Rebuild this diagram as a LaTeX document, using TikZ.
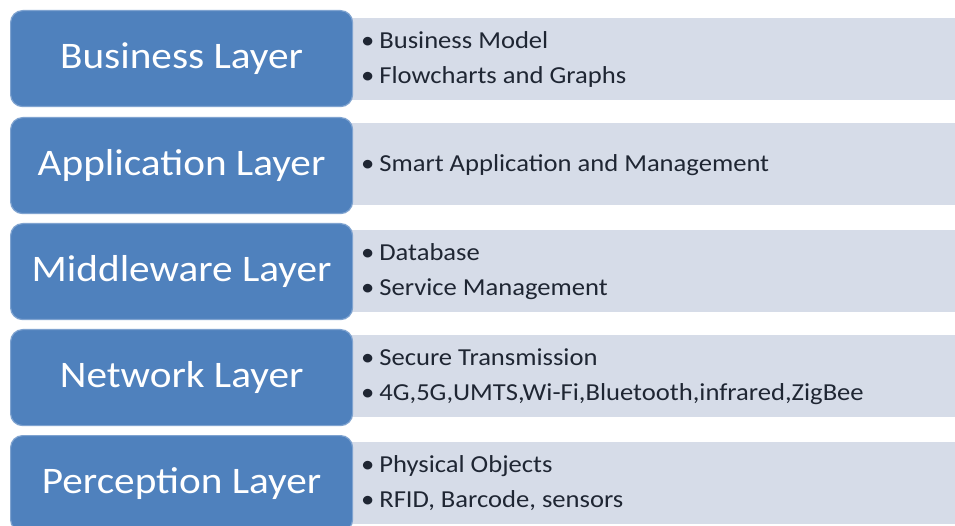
\documentclass[tikz,border=0pt]{standalone}
\usepackage{graphicx}
\usepackage{fontspec}
\setmainfont{Carlito}
\definecolor{layerblue}{HTML}{4F81BD}
\definecolor{layeredge}{HTML}{7FA3D0}
\definecolor{itemgray}{HTML}{D6DCE8}
\definecolor{itemtext}{HTML}{1F2633}
\newcommand\layertext[1]{\scalebox{1.1}[1]{#1}}
\newcommand\itemlist[1]{\scalebox{1.09}[1]{\begin{tabular}{@{}l@{}}#1\end{tabular}}}
\newcommand\bul{•\hspace{4.5pt}}
\tikzset{
  layerbox/.style={draw=layeredge, line width=1.2pt, fill=layerblue, rounded corners=12pt,
    minimum width=342pt, minimum height=96pt, inner sep=0pt, text=white,
    font=\fontsize{37.5}{42}\selectfont, anchor=north west},
  itembox/.style={fill=itemgray, draw=none, minimum width=615pt, minimum height=82pt,
    inner sep=0pt, anchor=north west},
  itemtxt/.style={anchor=west, align=left, text=itemtext, inner sep=0pt,
    font=\fontsize{24.4}{35}\selectfont}
}
\begin{document}
\begin{tikzpicture}[x=1pt,y=-1pt]
\useasboundingbox[fill=white] (0,0) rectangle (955,526);
% gray item bands
\node[itembox] (g1) at (340,18) {};
\node[itembox] (g2) at (340,123) {};
\node[itembox] (g3) at (340,230) {};
\node[itembox] (g4) at (340,335) {};
\node[itembox] (g5) at (340,442) {};
% blue layer boxes
\node[layerbox] (b1) at (10,10) {\layertext{Business Layer}};
\node[layerbox] (b2) at (10,117) {\layertext{Application Layer}};
\node[layerbox] (b3) at (10,223) {\layertext{Middleware Layer}};
\node[layerbox] (b4) at (10,329) {\layertext{Network Layer}};
\node[layerbox] (b5) at (10,435) {\layertext{Perception Layer}};
% item texts
\node[itemtxt] (t1) at ([xshift=21pt]g1.west) {\itemlist{\bul Business Model\\\bul Flowcharts and Graphs}};
\node[itemtxt] (t2) at ([xshift=21pt]g2.west) {\itemlist{\bul Smart Application and Management}};
\node[itemtxt] (t3) at ([xshift=21pt]g3.west) {\itemlist{\bul Database\\\bul Service Management}};
\node[itemtxt] (t4) at ([xshift=21pt]g4.west) {\itemlist{\bul Secure Transmission\\\bul 4G,5G,UMTS,Wi-Fi,Bluetooth,infrared,ZigBee}};
\node[itemtxt] (t5) at ([xshift=21pt]g5.west) {\itemlist{\bul Physical Objects\\\bul RFID, Barcode, sensors}};
\end{tikzpicture}
\end{document}
